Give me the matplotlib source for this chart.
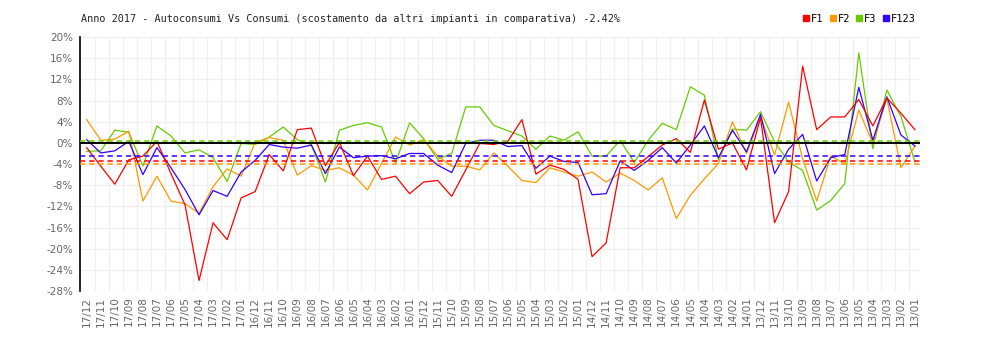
import matplotlib
matplotlib.use("Agg")
from matplotlib import pyplot as plt
from matplotlib.lines import Line2D

# months from 2017/12 back to 2013/01
months = [f"{y:02d}/{m:02d}" for y in range(17, 12, -1) for m in range(12, 0, -1)]

f1 = [-0.9, -4.4, -7.8, -3.2, -2.5, 0.3, -5.8, -11.7, -26.0, -15.1,
      -18.3, -10.4, -9.2, -2.2, -5.3, 2.5, 2.8, -4.3, 0.1, -6.2,
      -2.5, -6.9, -6.3, -9.6, -7.4, -7.1, -10.1, -5.1, -0.1, -0.3,
      0.3, 4.4, -5.9, -4.2, -5.0, -6.9, -21.5, -18.9, -4.7, -4.7,
      -2.6, -0.4, 0.8, -1.8, 8.1, -1.2, 0.0, -5.1, 4.8, -15.1,
      -9.2, 14.5, 2.5, 4.9, 4.9, 8.2, 3.2, 8.5, 5.6, 2.5]
f2 = [4.4, 0.5, 0.7, 2.2, -11.0, -6.3, -11.0, -11.5, -13.3, -8.3,
      -4.9, -6.3, 0.1, 1.0, 0.5, -6.1, -4.3, -5.2, -4.7, -6.1,
      -8.9, -3.9, 1.1, -0.4, 0.6, -2.5, -4.4, -4.4, -5.1, -1.9,
      -4.4, -7.1, -7.5, -4.7, -5.5, -6.3, -5.5, -7.4, -5.7, -7.1,
      -8.9, -6.6, -14.3, -9.9, -6.8, -3.9, 4.0, -2.0, 4.9, -2.3,
      7.7, -3.0, -11.0, -2.5, -3.9, 6.2, -0.1, 8.4, -4.7, -0.6]
f3 = [-1.6, -1.5, 2.4, 2.0, -4.4, 3.2, 1.3, -1.9, -1.3, -2.8,
      -7.3, -0.1, -0.3, 1.1, 3.0, 0.6, -0.3, -7.4, 2.4, 3.3,
      3.8, 3.0, -3.8, 3.8, 0.8, -3.1, -2.0, 6.8, 6.8, 3.3,
      2.3, 1.3, -1.2, 1.3, 0.5, 2.1, -2.5, -2.5, 0.5, -3.7,
      0.5, 3.7, 2.5, 10.6, 9.0, -3.2, 2.6, 2.4, 5.9, 0.2,
      -3.6, -5.2, -12.7, -10.9, -7.7, 17.0, -1.1, 10.0, 5.0, -3.6]
f123 = [0.6, -1.9, -1.5, 0.3, -6.0, -0.9, -4.7, -8.8, -13.6, -9.0,
        -10.1, -5.5, -3.3, -0.3, -0.8, -1.0, -0.4, -5.8, -0.8, -2.8,
        -2.5, -2.4, -3.0, -2.0, -2.0, -4.2, -5.6, -0.1, 0.5, 0.5,
        -0.7, -0.5, -4.8, -2.5, -3.5, -3.7, -9.8, -9.6, -3.4, -5.2,
        -3.3, -0.9, -3.8, -0.4, 3.2, -2.8, 2.4, -1.7, 5.4, -5.8,
        -1.2, 1.6, -7.2, -2.8, -2.2, 10.5, 0.5, 8.7, 1.5, -0.6]

# period averages (dashed reference lines)
avg_f1, avg_f2, avg_f3, avg_f123 = -3.5, -3.9, 0.45, -2.42

names = ["F1", "F2", "F3", "F123"]
colors = ["#ff0000", "#ff9900", "#66cc00", "#3300ff"]
series = [f1, f2, f3, f123]
averages = [avg_f1, avg_f2, avg_f3, avg_f123]

fig = plt.figure(figsize=(10, 3.4), dpi=100)
ax = fig.add_axes([0.08, 0.144, 0.84, 0.747])

xs = list(range(len(months)))

ax.set_xlim(-0.48, len(months) - 1 + 0.36)
ax.set_ylim(-28, 20)

# light background grid
for y in range(-28, 21, 4):
    ax.axhline(y, color="#f0f0f0", lw=1, zorder=0)
for i in xs[:-1]:
    ax.axvline(i + 0.57, color="#f0f0f0", lw=1, zorder=0)

for vals, col in zip([f3, f2, f123, f1], [colors[2], colors[1], colors[3], colors[0]]):
    ax.plot(xs, vals, color=col, lw=0.9, zorder=3)

ax.axhline(0, color="black", lw=1.4, zorder=4)
for avg, col in zip(averages, colors):
    ax.axhline(avg, color=col, lw=1.1, ls=(0, (3.5, 2.5)), zorder=4)

ax.set_yticks(range(-28, 21, 4))
ax.set_yticklabels([f"{v}%" for v in range(-28, 21, 4)])
ax.set_xticks(xs)
ax.set_xticklabels(months, rotation=90)
ax.tick_params(axis="both", length=0, colors="#666666", labelsize=7.5)
ax.tick_params(axis="y", pad=5)
ax.tick_params(axis="x", pad=4)

for side in ["top", "right", "bottom"]:
    ax.spines[side].set_visible(False)
ax.spines["left"].set_color("black")
ax.spines["left"].set_linewidth(1.2)

fig.text(0.081, 0.945, "Anno 2017 - Autoconsumi Vs Consumi (scostamento da altri impianti in comparativa) -2.42%",
         family="DejaVu Sans Mono", fontsize=7.3, va="center", ha="left", color="#222222")

handles = [Line2D([], [], marker="s", ls="none", color=c, markersize=5) for c in colors]
fig.legend(handles, names, loc="center right", bbox_to_anchor=(0.925, 0.945), ncol=4,
           frameon=False, fontsize=7.5, handletextpad=0.05, columnspacing=0.5,
           handlelength=0.8, prop={"family": "DejaVu Sans Mono", "size": 7.5})

plt.savefig("out.png", dpi=100)
